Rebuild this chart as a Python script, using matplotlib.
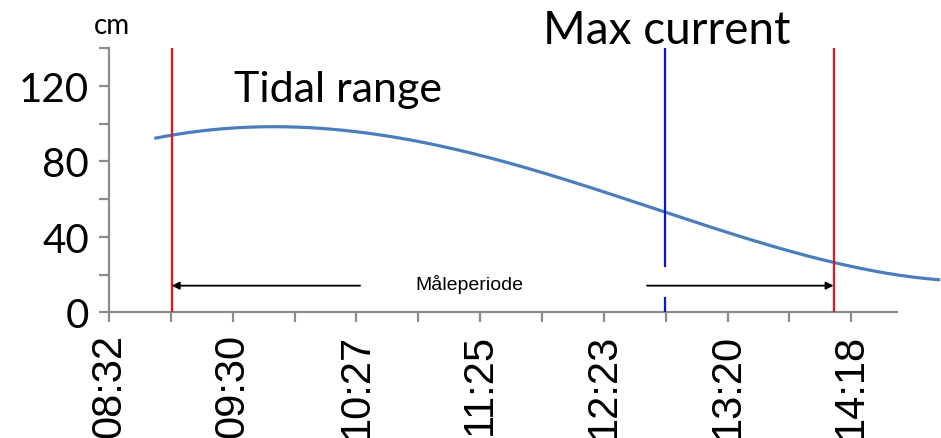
import matplotlib
matplotlib.use("Agg")
import matplotlib.pyplot as plt
import numpy as np

# --- data (x in minutes after 08:32, y in cm) ---
curve_minutes = [21.1, 29.2, 51.7, 79.6, 102.9, 126.2, 150.9, 182.1, 205.4, 228.7,
                 258.9, 283.0, 313.9, 337.2, 360.5, 387.0]
curve_cm = [92.2, 94.0, 96.7, 98.2, 97.5, 94.6, 88.4, 80.0, 72.8, 64.6,
            53.5, 44.4, 32.9, 26.5, 21.4, 17.2]
tick_labels = ["08:32", "09:30", "10:27", "11:25", "12:23", "13:20", "14:18"]
major_step = 57.6
red_lines = [29.2, 337.4]
blue_line = 258.9
y_labels = [0, 40, 80, 120]

fig = plt.figure(figsize=(9.41, 4.39), dpi=100)
ax = fig.add_axes([0.1158, 0.2859, 0.8842, 0.6025])

xs = np.array(curve_minutes)
ys = np.array(curve_cm)
xf = np.linspace(xs[0], xs[-1], 400)
coef = np.polyfit(xs, ys, 5)
ax.plot(xf, np.polyval(coef, xf), color="#4a7ebb", lw=2.3, solid_capstyle="butt", zorder=2)

for r in red_lines:
    ax.plot([r, r], [0, 139.5], color="#e8141a", lw=1.6, zorder=3)
ax.plot([blue_line, blue_line], [24.6, 139.5], color="#0a14d2", lw=1.6, zorder=3)
ax.plot([blue_line, blue_line], [0, 7.7], color="#0a14d2", lw=1.6, zorder=3)

arrow_y = 14.2
ax.annotate("", xy=(red_lines[0], arrow_y), xytext=(116.9, arrow_y),
            arrowprops=dict(arrowstyle="-|>", color="black", lw=1.3, mutation_scale=11,
                            shrinkA=0, shrinkB=0), zorder=4)
ax.annotate("", xy=(red_lines[1], arrow_y), xytext=(250.5, arrow_y),
            arrowprops=dict(arrowstyle="-|>", color="black", lw=1.3, mutation_scale=11,
                            shrinkA=0, shrinkB=0), zorder=4)
ax.text(167.9, 15.1, "Måleperiode", ha="center", va="center", fontsize=14,
        family="Liberation Sans")

ax.text(58.0, 112.0, "Tidal range", ha="left", va="baseline", fontsize=31, family="Lato")
ax.text(202.1, 142.4, "Max current", ha="left", va="baseline", fontsize=33, family="Lato",
        clip_on=False)
ax.text(1.2, 148.2, "cm", ha="center", va="baseline", fontsize=20, family="Lato",
        clip_on=False)

xmax_axis = 367.0
ax.set_xlim(0, 387.4)
ax.set_ylim(0, 140)

xt = np.arange(0, xmax_axis, major_step / 2)
ax.set_xticks(xt)
xl = []
for i in range(len(xt)):
    xl.append(tick_labels[i // 2] if i % 2 == 0 and i // 2 < len(tick_labels) else "")
ax.set_xticklabels(xl, rotation=90, fontsize=30, family="Liberation Sans")

yt = np.arange(0, 141, 20)
ax.set_yticks(yt)
ax.set_yticklabels([str(int(v)) if int(v) in y_labels else "" for v in yt],
                   fontsize=29, family="Lato")

for s in ["top", "right"]:
    ax.spines[s].set_visible(False)
for s in ["left", "bottom"]:
    ax.spines[s].set_color("#8c8c8c")
    ax.spines[s].set_linewidth(1.6)
ax.spines["bottom"].set_bounds(0, xmax_axis)
ax.tick_params(axis="both", direction="out", length=7.5, width=1.6, color="#8c8c8c")
ax.tick_params(axis="y", pad=7)
ax.tick_params(axis="x", pad=7)

fig.savefig("out.png", dpi=100)
